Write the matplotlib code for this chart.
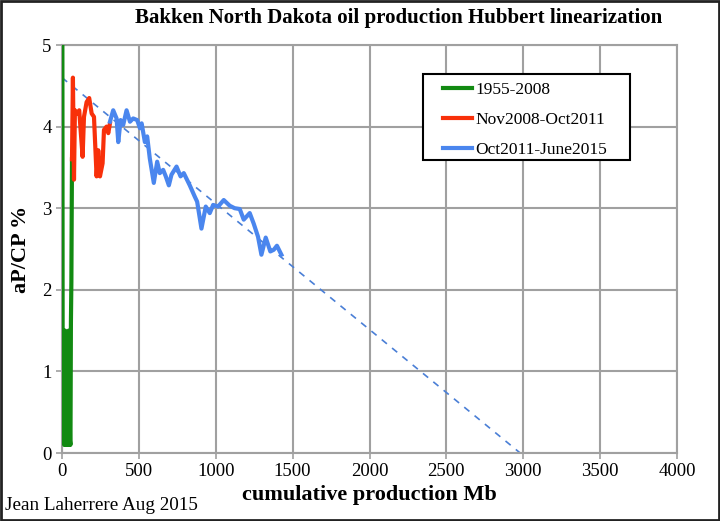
import numpy as np
import matplotlib.pyplot as plt
from matplotlib.patches import Rectangle

# cumulative production (Mb) and aP/CP (%)
green_cp = [0.2, 0.5, 1, 2, 3, 4, 6, 8, 10, 12, 14, 16, 18, 20, 22, 25, 28, 31, 34,
            37, 40, 43, 46, 49, 52, 55, 58, 61, 63, 65]
green_ap = [60, 25, 12, 6, 4, 1.5, 0.5, 1.4, 0.2, 1.5, 0.1, 1.3, 0.4, 1.5, 0.1, 1.2,
            0.3, 1.4, 0.1, 1.3, 0.2, 1.5, 0.1, 1.0, 0.15, 0.1, 1.6, 2.1, 2.9, 3.6]

red_cp = [65, 71, 78, 84, 99, 112, 121, 134, 143, 160, 177, 193, 208, 225, 236, 247,
          264, 273, 290, 301, 312]
red_ap = [3.6, 4.6, 3.35, 4.2, 4.16, 4.2, 3.96, 3.63, 4.12, 4.3, 4.35, 4.16, 4.12, 3.39,
          3.71, 3.39, 3.55, 3.96, 4.0, 3.92, 4.04]

blue_cp = [312, 333, 355, 366, 381, 398, 420, 442, 463, 489, 507, 518, 539, 554, 571,
           597, 619, 636, 658, 675, 695, 712, 745, 771, 792, 831, 864, 879, 907, 935,
           961, 983, 1015, 1052, 1091, 1123, 1156, 1182, 1221, 1247, 1275, 1297, 1325,
           1355, 1377, 1398, 1427]
blue_ap = [4.06, 4.2, 4.1, 3.81, 4.08, 4.02, 4.2, 4.06, 4.1, 4.08, 3.98, 4.04, 3.81,
           3.88, 3.61, 3.31, 3.57, 3.43, 3.47, 3.39, 3.28, 3.41, 3.51, 3.39, 3.43, 3.28,
           3.14, 3.08, 2.75, 3.02, 2.94, 3.04, 3.02, 3.10, 3.03, 3.0, 2.99, 2.86, 2.94,
           2.81, 2.65, 2.43, 2.64, 2.47, 2.49, 2.54, 2.43]

# Hubbert trend: intercept and ultimate
trend_a = 4.6
trend_u = 2980

serif = ['Liberation Serif', 'DejaVu Serif']
plt.rcParams['font.family'] = serif

fig = plt.figure(figsize=(7.2, 5.21), dpi=100)
ax = fig.add_axes([62 / 720, 1 - 453 / 521, 615 / 720, 408 / 521])

ax.plot(green_cp, green_ap, color='#128a12', lw=3, label='1955-2008', zorder=3)
ax.plot(red_cp, red_ap, color='#f8300a', lw=3, label='Nov2008-Oct2011', zorder=3)
ax.plot(blue_cp, blue_ap, color='#4a86ee', lw=3, label='Oct2011-June2015', zorder=3)
ax.plot([0, trend_u], [trend_a, 0], color='#4a7fd6', lw=1.2, ls=(0, (4, 4)), zorder=2)

ax.set_xlim(0, 4000)
ax.set_ylim(0, 5)
ax.set_xticks(np.arange(0, 4001, 500))
ax.set_yticks(np.arange(0, 6, 1))
ax.grid(True, color='#a0a0a0', lw=1.5)
ax.set_axisbelow(True)
for s in ax.spines.values():
    s.set_color('#a0a0a0')
    s.set_linewidth(1.5)
ax.tick_params(colors='#a0a0a0', labelcolor='black', labelsize=13.5, length=4, width=1.2)

ax.set_xlabel('cumulative production Mb', fontsize=16, fontweight='bold', labelpad=3)
ax.set_ylabel('aP/CP %', fontsize=16, fontweight='bold', labelpad=8)

fig.text(0.553, 0.965, 'Bakken North Dakota oil production Hubbert linearization',
         ha='center', va='center', fontsize=15, fontweight='bold')
fig.text(0.007, 0.03, 'Jean Laherrere Aug 2015', ha='left', va='center', fontsize=13.8)

# legend box drawn separately (the original has wide side padding)
ax.add_patch(Rectangle((0.587, 0.718), 0.337, 0.211, transform=ax.transAxes,
                       facecolor='white', edgecolor='black', lw=1.5, zorder=4))
leg = ax.legend(loc='upper left', bbox_to_anchor=(0.62, 0.91), fontsize=12.5,
                frameon=False, handlelength=1.65, labelspacing=0.8,
                borderpad=0, handletextpad=0.2, borderaxespad=0)
leg.set_zorder(5)

fig.patches.append(Rectangle((0.001, 0.002), 0.997, 0.996, transform=fig.transFigure,
                             fill=False, edgecolor='#222222', lw=2))

fig.savefig('out.png', dpi=100)
